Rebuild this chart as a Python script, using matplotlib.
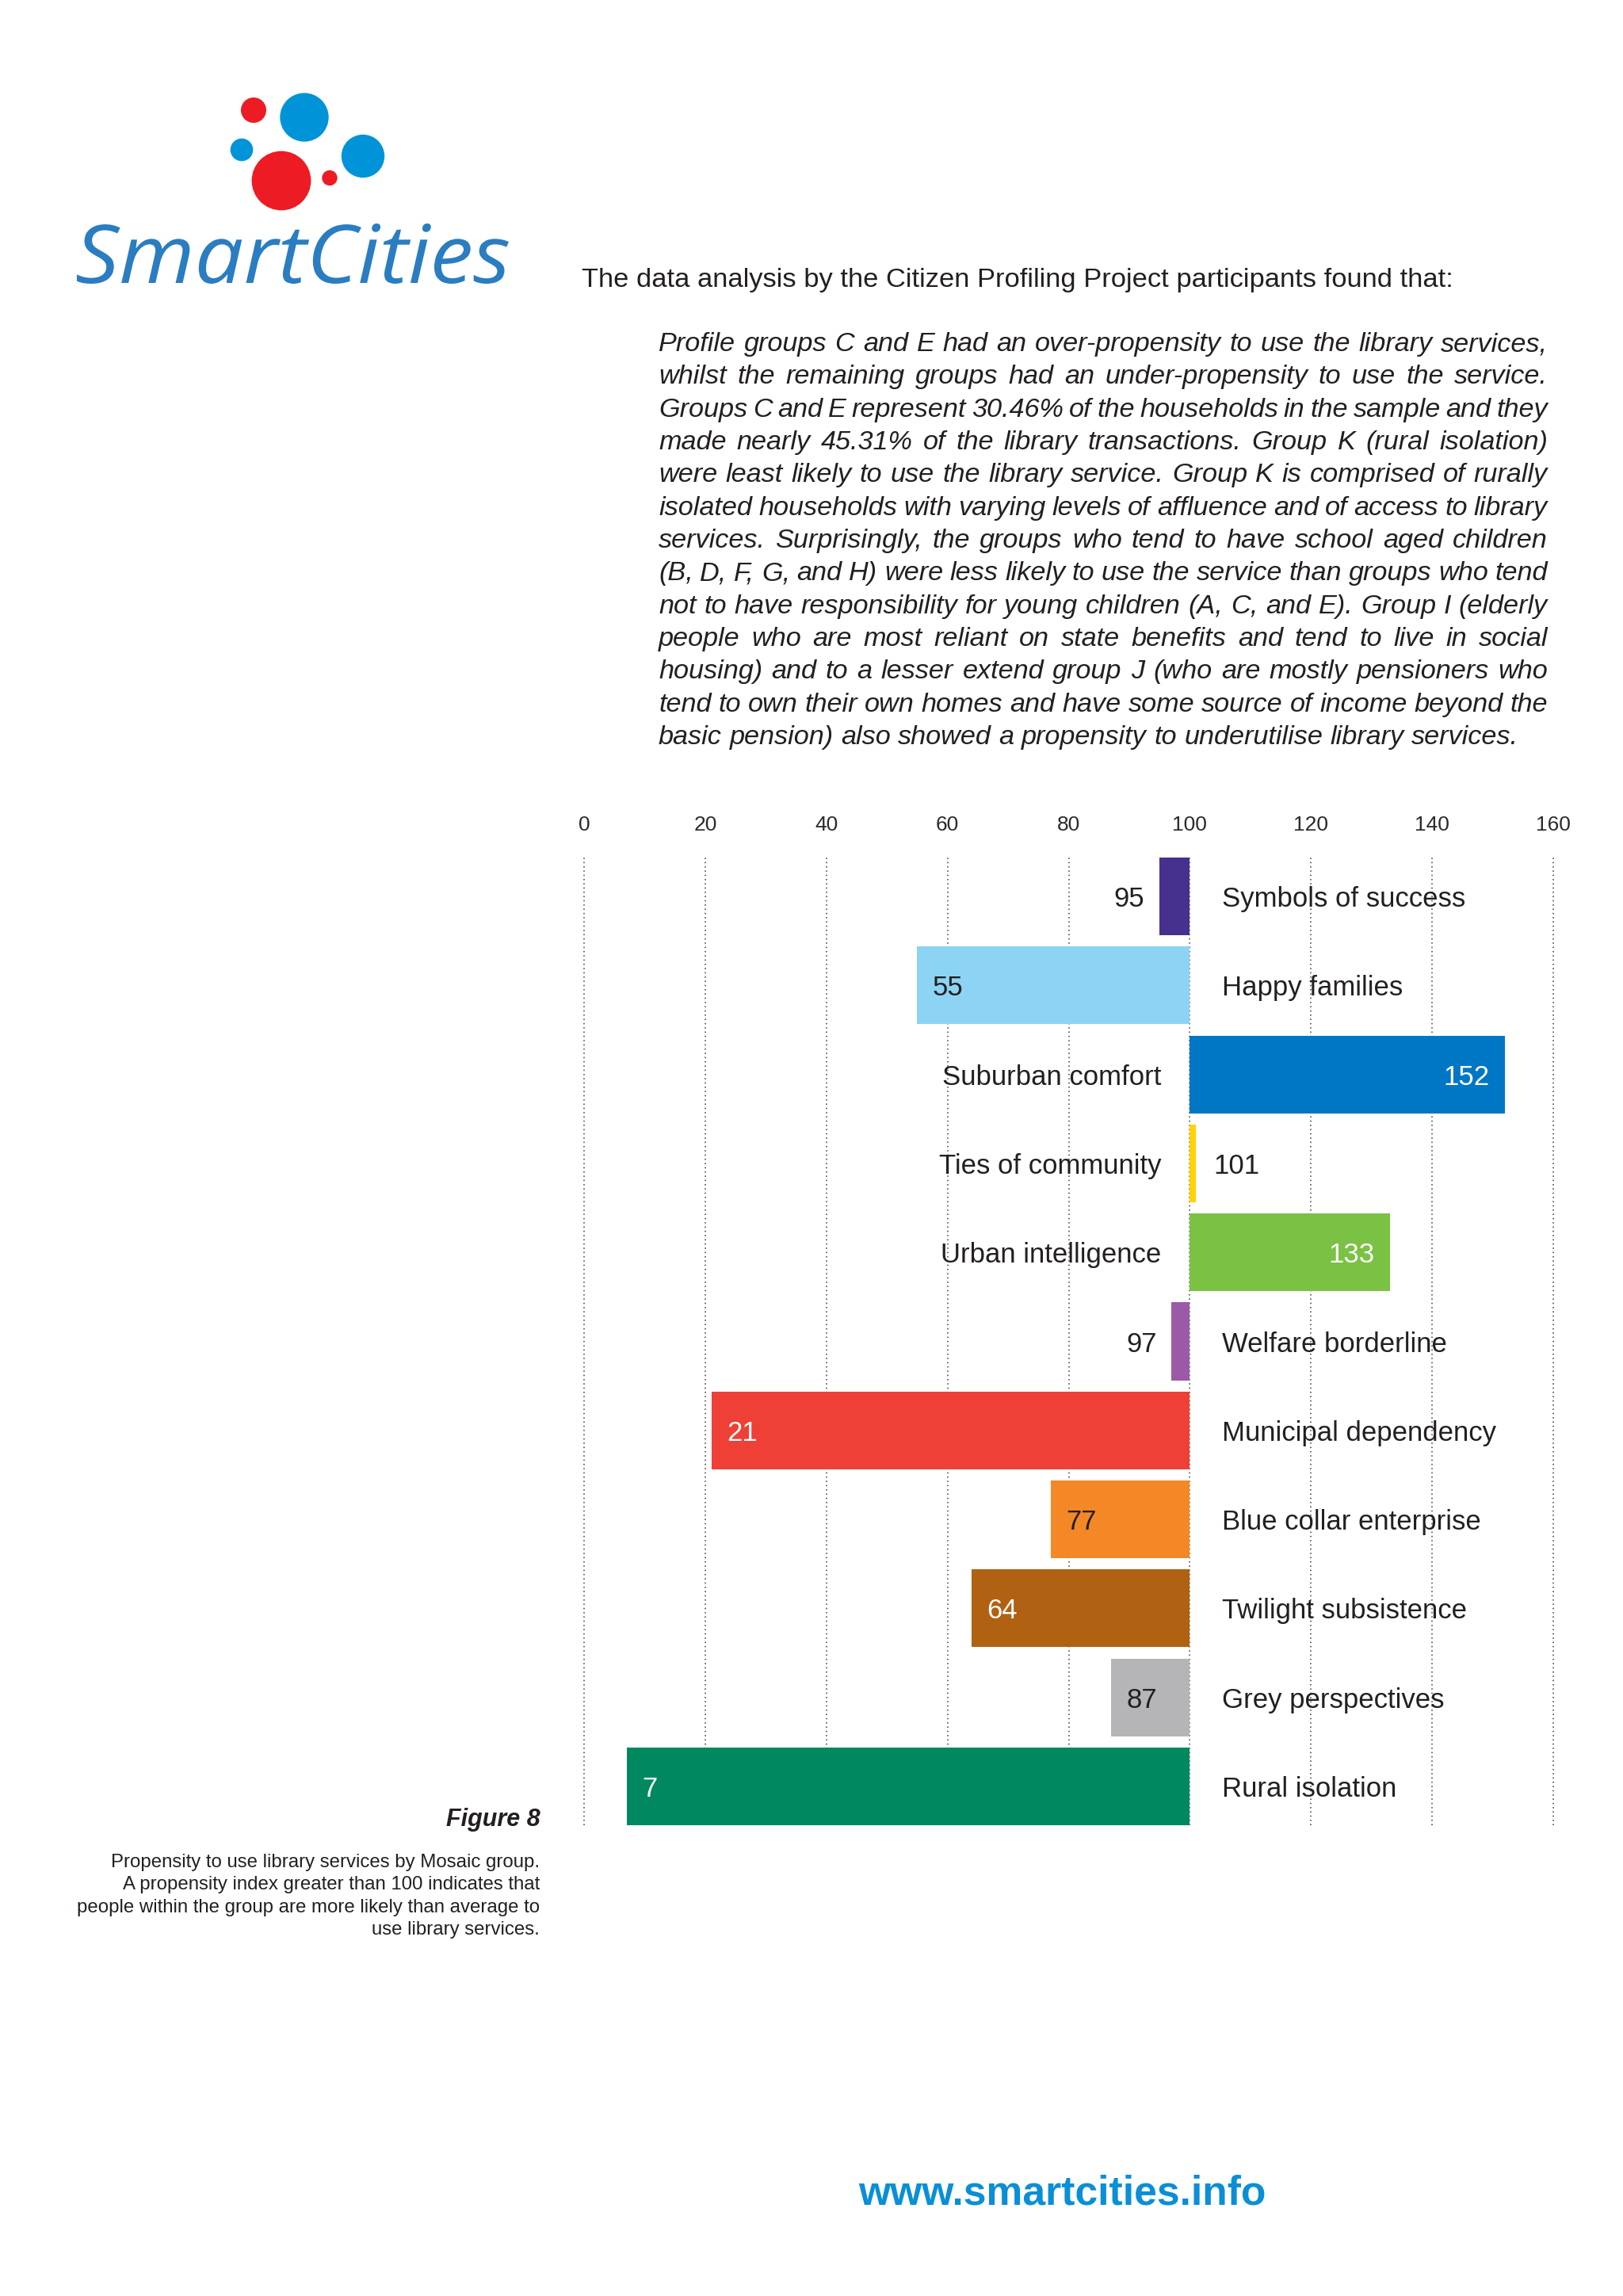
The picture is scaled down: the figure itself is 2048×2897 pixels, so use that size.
import matplotlib
matplotlib.use("Agg")
import matplotlib.pyplot as plt
from matplotlib import font_manager as fm
from matplotlib.font_manager import FontProperties
from matplotlib.textpath import TextPath
from matplotlib.patches import PathPatch, Circle
from matplotlib.transforms import Affine2D

# data
groups = [
    "Symbols of success", "Happy families", "Suburban comfort",
    "Ties of community", "Urban intelligence", "Welfare borderline",
    "Municipal dependency", "Blue collar enterprise", "Twilight subsistence",
    "Grey perspectives", "Rural isolation",
]
propensity = [95, 55, 152, 101, 133, 97, 21, 77, 64, 87, 7]
x_ticks = [0, 20, 40, 60, 80, 100, 120, 140, 160]

header = "The data analysis by the Citizen Profiling Project participants found that:"
para_lines = [
    "Profile groups C and E had an over-propensity to use the library services,",
    "whilst the remaining groups had an under-propensity to use the service.",
    "Groups C and E represent 30.46% of the households in the sample and they",
    "made nearly 45.31% of  the library transactions. Group K (rural isolation)",
    "were least likely to use the library service. Group K is comprised of  rurally",
    "isolated households with varying levels of affluence and of access to library",
    "services. Surprisingly, the groups who tend to have school aged children",
    "(B, D, F, G, and H) were less likely to use the service than groups who tend",
    "not to have responsibility for young children (A, C, and E). Group I (elderly",
    "people who are most reliant on state benefits and tend to live in social",
    "housing) and to a lesser extend group J (who are mostly pensioners who",
    "tend to own their own homes and have some source of income beyond the",
    "basic pension) also showed a propensity to underutilise library services.",
]
fig_title = "Figure 8"
caption_lines = [
    "Propensity to use library services by Mosaic group.",
    "A propensity index greater than 100 indicates that",
    "people within the group are more likely than average to",
    "use library services.",
]
footer = "www.smartcities.info"
logo_word = "SmartCities"

# styles
bar_colors = ["#46318F", "#8DD4F4", "#0077C4", "#FFD200", "#7BC143", "#9A5AA6",
              "#EE4036", "#F48827", "#B06111", "#B5B5B7", "#00895F"]
value_on_light = ["#231F20", "#231F20", "white", "#231F20", "white", "#231F20",
                  "white", "#231F20", "white", "#231F20", "white"]
INK = "#231F20"
FONT = "Liberation Sans"

W, H = 2048, 2897
fig = plt.figure(figsize=(W / 100, H / 100), dpi=100)
fig.patch.set_facecolor("white")
rend = fig.canvas.get_renderer()

# page axes in pixel coords (y down)
page = fig.add_axes([0, 0, 1, 1])
page.set_xlim(0, W)
page.set_ylim(H, 0)
page.axis("off")


def text_w(s, fp):
    return rend.get_text_width_height_descent(s, fp, ismath=False)[0]


def fit_size(s, width, **kw):
    fp = FontProperties(family=FONT, size=10, **kw)
    return 10 * width / text_w(s, fp)


def pick_italic(families):
    for fam in families:
        for f in fm.fontManager.ttflist:
            if f.name == fam and f.style == "italic" and int(f.weight) <= 500:
                return FontProperties(fname=f.fname)
    return FontProperties(family="DejaVu Sans", style="italic")


# logo
for cx, cy, r, c in [(320, 139, 16, "#ED1C24"), (384, 148, 30.7, "#0093D7"),
                     (305, 189, 14.3, "#0093D7"), (355, 228, 37.4, "#ED1C24"),
                     (416, 224.5, 9.7, "#ED1C24"), (458, 197, 27.2, "#0093D7")]:
    page.add_patch(Circle((cx, cy), r, color=c, lw=0))

lfp = pick_italic(["Open Sans", "Noto Sans", "Lato", "Roboto", "DejaVu Sans"])
tp = TextPath((0, 0), logo_word, size=100, prop=lfp)
bb = tp.get_extents()
tr = (Affine2D().translate(-bb.x0, -bb.y0)
      .scale(545 / bb.width, -76 / bb.height).translate(97, 358))
page.add_patch(PathPatch(tp, transform=tr + page.transData,
                         color="#2A7DC1", lw=0))

# header and justified paragraph
hs = fit_size(header, 1102)
page.text(734, 362, header, fontsize=hs, family=FONT, color=INK,
          ha="left", va="baseline")

ps = fit_size(para_lines[-1], 1094, style="italic")
pfp = FontProperties(family=FONT, style="italic", size=ps)
x0, x1 = 831, 1953
space = text_w("a a", pfp) - text_w("aa", pfp)
for i, line in enumerate(para_lines):
    words = line.split()
    widths = [text_w(w, pfp) for w in words]
    y = 443 + i * 41.33
    if i == len(para_lines) - 1:
        gap = space
    else:
        gap = max((x1 - x0 - sum(widths)) / (len(words) - 1), 0.3 * space)
    x = x0
    for w, wd in zip(words, widths):
        page.text(x, y, w, fontproperties=pfp, color=INK, ha="left", va="baseline")
        x += wd + gap

# caption
page.text(682, 2304, fig_title, fontsize=22, family=FONT, style="italic",
          weight="bold", color=INK, ha="right", va="baseline")
cs = fit_size(caption_lines[0], 542)
for i, line in enumerate(caption_lines):
    page.text(681, 2356 + i * 28.4, line, fontsize=cs, family=FONT, color=INK,
              ha="right", va="baseline")

# footer
fs = fit_size(footer, 515, weight="bold")
page.text(1340, 2781, footer, fontsize=fs, family=FONT, weight="bold",
          color="#0A8FD6", ha="center", va="baseline")

# chart
left_px, right_px = 737, 1960
ax = fig.add_axes([left_px / W, 1 - 2303 / H, (right_px - left_px) / W, (2303 - 1082) / H])
ax.set_facecolor("none")
bh = 0.874
pos = list(range(len(groups)))
ax.barh(pos, [v - 100 for v in propensity], left=100, height=bh,
        color=bar_colors, zorder=2)
ax.set_xlim(0, 160)
ax.set_ylim(len(groups) - 1 + bh / 2, -bh / 2)
ax.xaxis.set_ticks_position("top")
ax.set_xticks(x_ticks)
ax.set_yticks([])
ax.tick_params(axis="x", length=0, pad=21, labelsize=19, labelcolor="#2b2b2b")
for t in ax.get_xticklabels():
    t.set_family(FONT)
for s in ax.spines.values():
    s.set_visible(False)
ax.grid(axis="x", linestyle=(0, (1, 2.5)), color="#3a3a3a", linewidth=1.1)
ax.set_axisbelow(True)
for gl in ax.get_xgridlines():
    gl.set_clip_on(False)

ls = fit_size(groups[0], 307)
for i, (g, v) in enumerate(zip(groups, propensity)):
    # category label on the opposite side of the 100 line
    if v < 100:
        ax.annotate(g, (100, i), xytext=(29, 0), textcoords="offset points",
                    ha="left", va="center_baseline", fontsize=ls, family=FONT,
                    color=INK)
    else:
        ax.annotate(g, (100, i), xytext=(-26, 0), textcoords="offset points",
                    ha="right", va="center_baseline", fontsize=ls, family=FONT,
                    color=INK)
    # value label
    if abs(v - 100) < 10:
        off, ha, col = (-13.5, "right", INK) if v < 100 else (16, "left", INK)
    else:
        off, ha, col = (14, "left", value_on_light[i]) if v < 100 else (-14, "right", value_on_light[i])
    ax.annotate(str(v), (v, i), xytext=(off, 0), textcoords="offset points",
                ha=ha, va="center_baseline", fontsize=ls, family=FONT, color=col,
                zorder=3)

fig.savefig("out.png", dpi=100, facecolor="white")
